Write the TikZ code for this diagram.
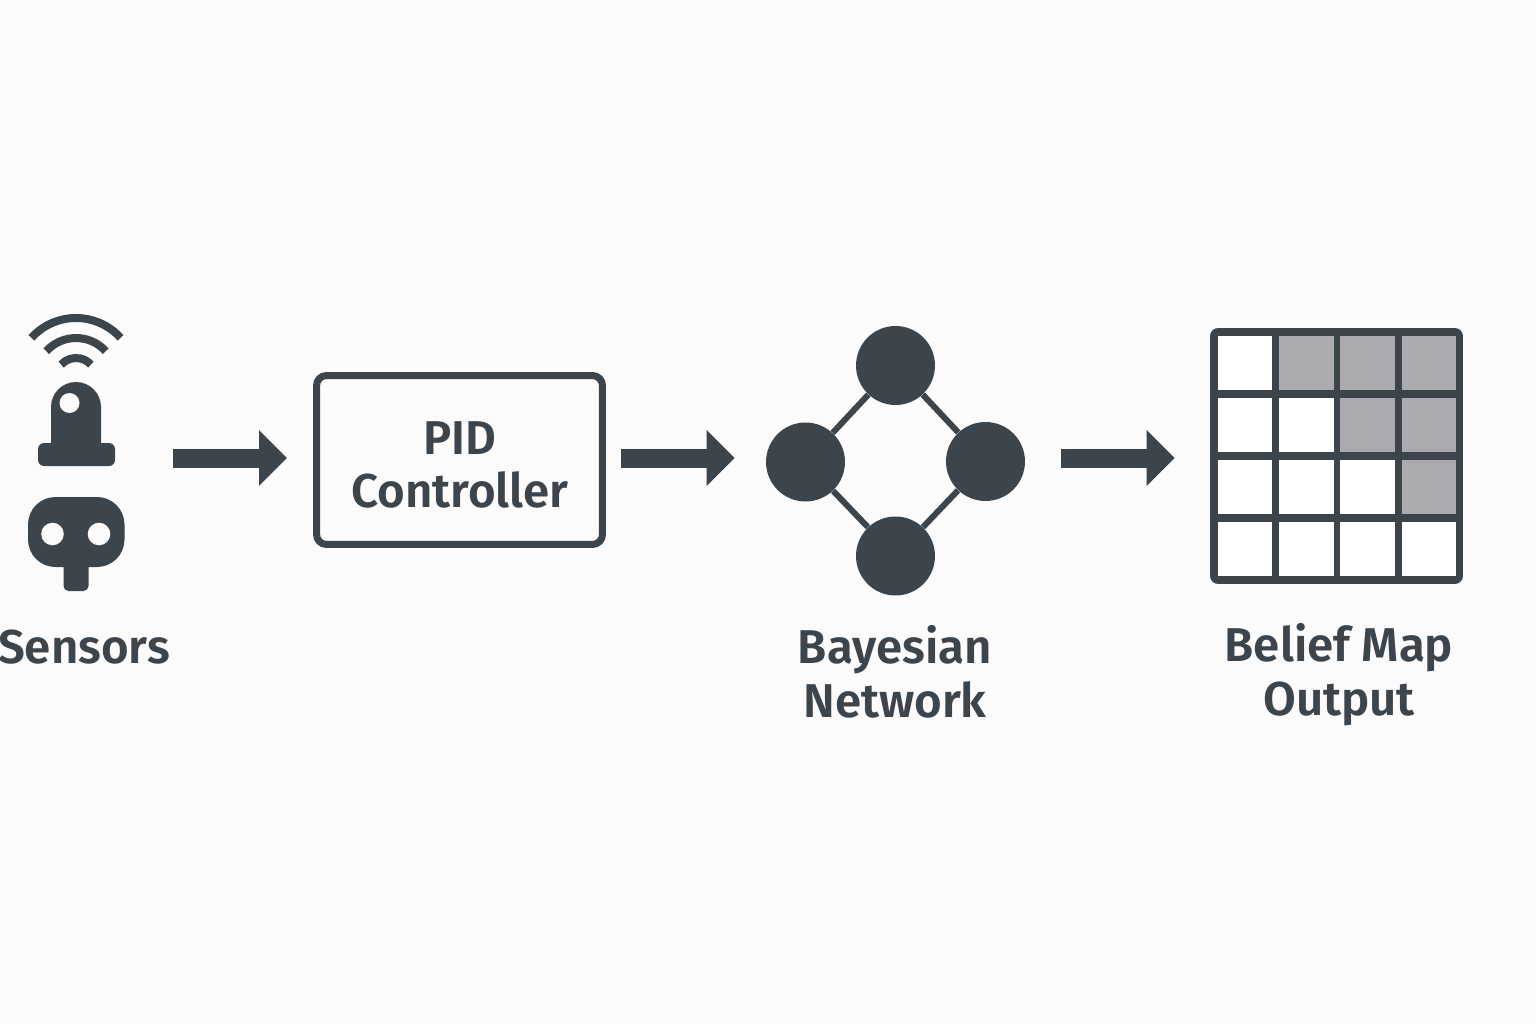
\documentclass[tikz,border=0pt]{standalone}
\usepackage{fontspec}
\setmainfont{Fira Sans}[BoldFont={* SemiBold},BoldFeatures={}]
\usetikzlibrary{arrows.meta}
\definecolor{ink}{HTML}{3C444C}
\definecolor{paper}{HTML}{FBFBFB}
\definecolor{cellgrey}{HTML}{A9ABAE}
\tikzset{
  flow/.style={ink, line width=0.38cm, -{Triangle[length=0.56cm,width=1.08cm]}},
  caption/.style={ink, align=center, inner sep=0pt, font=\fontsize{27}{30.6}\selectfont\bfseries},
  netnode/.style={circle, fill=ink, inner sep=0pt, minimum size=1.58cm},
  wave/.style={ink, line width=0.16cm},
}
\begin{document}
\begin{tikzpicture}[x=0.02cm, y=-0.02cm]

    % Sfondo
    \fill[paper] (0,0) rectangle (1536,1024);
    \useasboundingbox (0,0) rectangle (1536,1024);

    %-------------------------
    % Sensors
    %-------------------------
    \draw[wave] (76,378) ++(-138:60) arc (-138:-42:60);
    \draw[wave] (76,378) ++(-138:40) arc (-138:-42:40);
    \draw[wave] (76,378) ++(-138:20) arc (-138:-42:20);

    % Sensore superiore
    \fill[ink] (51,445) -- (51,407) arc (180:360:25) -- (101,445) -- cycle;
    \fill[ink, rounded corners=0.12cm] (38,443) rectangle (115,466);
    \fill[paper] (69.5,403) circle (10);

    % Sensore inferiore
    \fill[ink, rounded corners=0.1cm] (63.5,550) rectangle (88.5,591);
    \fill[ink, rounded corners=0.55cm] (28,497) rectangle (124.5,567);
    \fill[paper] (52.5,534) circle (11.3);
    \fill[paper] (99,534) circle (11.3);

    \node[caption] (sensors) at (84,647) {Sensors};

    %-------------------------
    % PID
    %-------------------------
    \node[draw=ink, line width=0.14cm, rounded corners=0.2cm, minimum width=5.72cm, minimum height=3.38cm, inner sep=0pt] (pid) at (459.5,460) {};
    \node[caption] (pidlabel) at (460,465) {PID\\Controller};

    %-------------------------
    % Bayesian network
    %-------------------------
    \node[netnode] (nettop) at (895.5,365.5) {};
    \node[netnode] (netleft) at (805.5,462) {};
    \node[netnode] (netright) at (985.5,461.5) {};
    \node[netnode] (netbottom) at (895.5,556) {};
    \draw[ink, line width=0.12cm] (nettop) -- (netright) -- (netbottom) -- (netleft) -- (nettop);

    \node[caption] (netlabel) at (895,672) {Bayesian\\Network};

    %-------------------------
    % Belief map
    %-------------------------
    \node[fill=ink, rounded corners=0.16cm, minimum width=5.06cm, minimum height=5.12cm, inner sep=0pt] (grid) at (1336.5,456) {};
    \foreach \r in {0,...,3}
      \foreach \c in {0,...,3} {
        \pgfmathsetmacro{\cx}{1217.7+61.3*\c}
        \pgfmathsetmacro{\cy}{335.7+62*\r}
        \pgfmathparse{\c>\r ? "cellgrey" : "white"}
        \fill[\pgfmathresult] (\cx,\cy) rectangle ++(54.6,54.4);
      }

    \node[caption] (gridlabel) at (1339,675) {Belief Map\\Output};

    %-------------------------
    % Frecce
    %-------------------------
    \coordinate (sensorsout) at (173,458);
    \draw[flow, shorten >=0.52cm] (sensorsout) -- (sensorsout -| pid.west);
    \draw[flow, shorten <=0.3cm, shorten >=0.62cm] (pid.east |- sensorsout) -- (netleft.west |- sensorsout);
    \draw[flow, shorten <=0.72cm, shorten >=0.7cm] (netright.east |- sensorsout) -- (grid.west |- sensorsout);

\end{tikzpicture}
\end{document}
